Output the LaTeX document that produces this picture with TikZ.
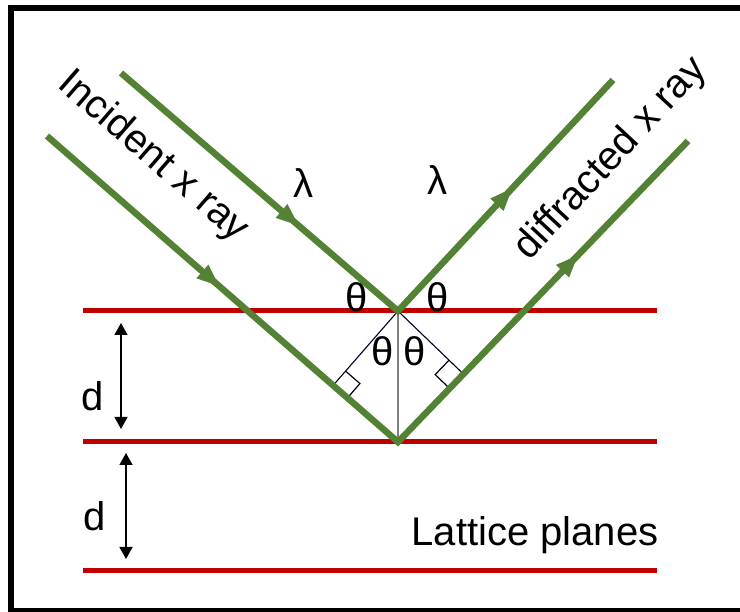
\documentclass[tikz,border=0pt]{standalone}
\usepackage{fontspec}
\setmainfont{Liberation Sans}
\usetikzlibrary{arrows.meta,calc,decorations.markings}
\definecolor{raygreen}{HTML}{548235}
\definecolor{planered}{HTML}{C00000}
\begin{document}
\begin{tikzpicture}[x=1pt,y=-1pt,
  ray/.style={color=raygreen,line width=6.5pt,line join=miter},
  plane/.style={draw=planered,line width=5pt},
  lbl/.style={font=\fontsize{40}{48}\selectfont,inner sep=0pt},
  thinln/.style={draw=black!85!blue,line width=1.1pt},
  vline/.style={draw=black!50,line width=1.6pt},
  rmark/.style={draw=black,line width=1.2pt},
  dim/.style={draw=black,line width=1.3pt,{Triangle[length=12pt,width=13pt]}-{Triangle[length=12pt,width=13pt]}},
  midarrow/.style={postaction={decorate},decoration={markings,mark=at position #1 with {\arrow{Triangle[length=22pt,width=18pt,line width=0.5pt]}}}}
]
\useasboundingbox (0,0) rectangle (740,612);
\clip (0,0) rectangle (740,612);
\fill[white] (0,0) rectangle (740,612);
% frame
\draw[line width=5.5pt] (11,8) rectangle (760,611);
% lattice planes
\coordinate (p1l) at (83,311); \coordinate (p1r) at (657,311);
\coordinate (p2l) at (83,442); \coordinate (p2r) at (657,442);
\coordinate (p3l) at (83,571); \coordinate (p3r) at (657,571);
\draw[plane] (p1l) -- (p1r);
\draw[plane] (p2l) -- (p2r);
\draw[plane] (p3l) -- (p3r);
% ray points
\coordinate (i1s) at (121,73);
\coordinate (A) at (398,311);
\coordinate (i2s) at (47,136);
\coordinate (B) at (398,442);
\coordinate (d1e) at (613,80);
\coordinate (d2e) at (688,141);
% construction lines
\coordinate (F1) at ($(i2s)!(A)!(B)$);
\coordinate (F2) at ($(B)!(A)!(d2e)$);
\draw[thinln] (A) -- (F1);
\draw[thinln] (A) -- (F2);
\draw[vline] (A) -- (B);
\coordinate (F1a) at ($(F1)!19pt!(A)$);
\coordinate (F1b) at ($(F1)!19pt!(B)$);
\coordinate (F2a) at ($(F2)!20pt!(A)$);
\coordinate (F2b) at ($(F2)!20pt!(B)$);
\draw[rmark] (F1a) -- ($(F1a)+(F1b)-(F1)$) -- (F1b);
\draw[rmark] (F2a) -- ($(F2a)+(F2b)-(F2)$) -- (F2b);
% rays
\draw[ray] (i1s) -- (A) -- (d1e);
\draw[ray] (i2s) -- (B) -- (d2e);
\path[ray,midarrow=0.64] (i1s) -- (A);
\path[ray,midarrow=0.49] (i2s) -- (B);
\path[ray,midarrow=0.53] (A) -- (d1e);
\path[ray,midarrow=0.62] (B) -- (d2e);
% spacing arrows
\coordinate (da1) at (121,323); \coordinate (da2) at (121,429);
\coordinate (db1) at (126,453); \coordinate (db2) at (126,559);
\draw[dim] (da1) -- (da2);
\draw[dim] (db1) -- (db2);
% labels
\node[lbl,rotate=-41] (inc) at (153,157) {Incident x ray};
\node[lbl,rotate=47] (dif) at (611,159) {diffracted x ray};
\node[lbl] (lam1) at (303,183) {λ};
\node[lbl] (lam2) at (437,180) {λ};
\node[lbl] (th1) at (357,297) {θ};
\node[lbl] (th2) at (438,297) {θ};
\node[lbl] (th3) at (383,351) {θ};
\node[lbl] (th4) at (415,351) {θ};
\node[lbl] (dd1) at (93,396) {d};
\node[lbl] (dd2) at (95,516) {d};
\node[lbl,anchor=base] (lat) at (535,546) {Lattice planes};
\end{tikzpicture}
\end{document}
